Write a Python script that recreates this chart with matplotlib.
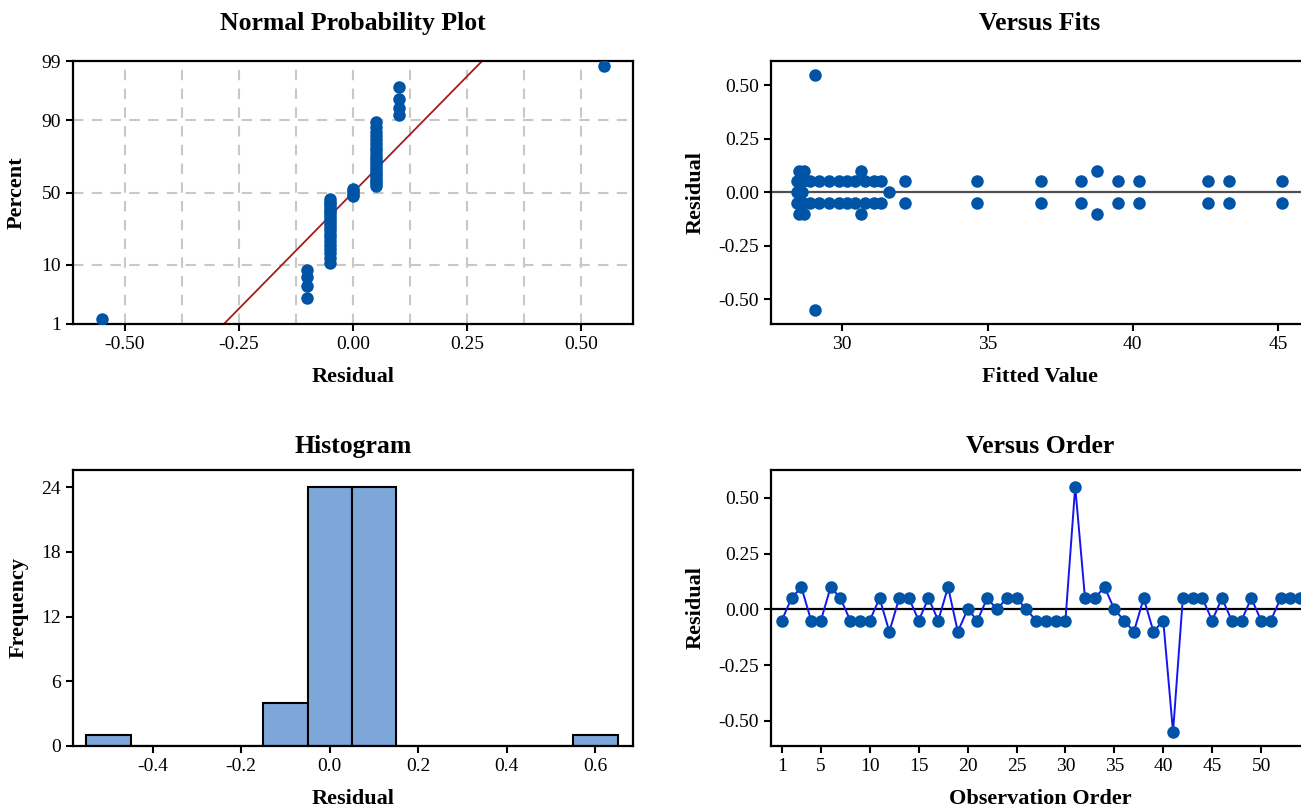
import numpy as np
import matplotlib
matplotlib.use("Agg")
import matplotlib.pyplot as plt
from statistics import NormalDist

# ---------------- data ----------------
residuals = [-0.05, 0.05, 0.10, -0.05, -0.05, 0.10, 0.05, -0.05, -0.05, -0.05,
             0.05, -0.10, 0.05, 0.05, -0.05, 0.05, -0.05, 0.10, -0.10, 0.0,
             -0.05, 0.05, 0.0, 0.05, 0.05, 0.0, -0.05, -0.05, -0.05, -0.05,
             0.55, 0.05, 0.05, 0.10, 0.0, -0.05, -0.10, 0.05, -0.10, -0.05,
             -0.55, 0.05, 0.05, 0.05, -0.05, 0.05, -0.05, -0.05, 0.05, -0.05,
             -0.05, 0.05, 0.05, 0.05]
fitted = [28.45, 28.45, 28.50, 28.65, 28.90, 28.68, 28.65, 29.20, 29.55, 29.90,
          28.90, 28.50, 29.20, 29.55, 30.15, 29.90, 30.45, 30.65, 28.68, 28.45,
          30.80, 30.15, 28.55, 30.45, 30.80, 28.62, 31.10, 31.35, 32.17, 34.63,
          29.06, 31.10, 31.35, 38.78, 31.61, 36.85, 30.65, 32.17, 38.78, 38.20,
          29.06, 34.63, 36.85, 38.20, 39.48, 39.48, 40.20, 42.60, 40.20, 43.31,
          45.12, 42.60, 43.31, 45.12]
observation = list(range(1, len(residuals) + 1))

prob_ticks = [1, 10, 50, 90, 99]
npp_xticks = [-0.50, -0.25, 0.00, 0.25, 0.50]
hist_bin_centers = [-0.5, -0.4, -0.3, -0.2, -0.1, 0.0, 0.1, 0.2, 0.3, 0.4, 0.5, 0.6]
hist_xticks = [-0.4, -0.2, 0.0, 0.2, 0.4, 0.6]
hist_yticks = [0, 6, 12, 18, 24]
fits_xticks = [30, 35, 40, 45]
resid_ticks = [-0.50, -0.25, 0.00, 0.25, 0.50]
order_ticks = [1, 5, 10, 15, 20, 25, 30, 35, 40, 45, 50]

# ---------------- style ----------------
plt.rcParams['font.family'] = ['Liberation Serif', 'DejaVu Serif']
plt.rcParams['axes.unicode_minus'] = False
BLUE = '#0054A6'
W, H = 1301, 808
fig = plt.figure(figsize=(W / 100, H / 100), dpi=100)

def box(l, t, r, b):
    return [l / W, 1 - b / H, (r - l) / W, (b - t) / H]

ax_npp = fig.add_axes(box(73, 61, 633, 324))
ax_fit = fig.add_axes(box(771, 61, 1309, 324))
ax_hist = fig.add_axes(box(73, 470, 633, 746))
ax_ord = fig.add_axes(box(771, 470, 1309, 746))

TS, LS, KS = 18.5, 16, 14

def style(ax):
    for s in ax.spines.values():
        s.set_linewidth(1.6)
        s.set_color('black')
    ax.tick_params(direction='out', length=5, width=1.5, labelsize=KS, colors='black')

# ---------------- Normal probability plot ----------------
nd = NormalDist()
r = np.array(residuals)
rs = np.sort(r)
n = len(rs)
pct = (np.arange(1, n + 1) - 0.3) / (n + 0.4)
z = np.array([nd.inv_cdf(p) for p in pct])
mu, sd = r.mean(), r.std(ddof=1)
zlo, zhi = nd.inv_cdf(0.01), nd.inv_cdf(0.99)

for gx in np.arange(-0.5, 0.51, 0.125):
    ax_npp.axvline(gx, color='#C8C8C8', lw=1.5, ls=(0, (5, 4)), zorder=0)
for p in [10, 50, 90]:
    ax_npp.axhline(nd.inv_cdf(p / 100), color='#C8C8C8', lw=1.5, ls=(0, (5, 4)), zorder=0)
zl = np.linspace(zlo, zhi, 50)
ax_npp.plot(mu + sd * zl, zl, color='#A51C1C', lw=1.3, zorder=2)
ax_npp.plot(rs, z, 'o', color=BLUE, ms=9, mec='none', zorder=3)
ax_npp.set_xlim(-0.614, 0.614)
ax_npp.set_ylim(zlo, zhi)
ax_npp.set_yticks([nd.inv_cdf(p / 100) for p in prob_ticks])
ax_npp.set_yticklabels([str(p) for p in prob_ticks])
ax_npp.set_xticks(npp_xticks)
ax_npp.set_xticklabels([f"{v:.2f}" for v in npp_xticks])
ax_npp.set_title("Normal Probability Plot", fontsize=TS, fontweight='bold', pad=22)
ax_npp.set_xlabel("Residual", fontsize=LS, fontweight='bold')
ax_npp.set_ylabel("Percent", fontsize=LS, fontweight='bold')
style(ax_npp)

# ---------------- Versus Fits ----------------
ax_fit.axhline(0, color='#505050', lw=1.6, zorder=1)
ax_fit.plot(fitted, residuals, 'o', color=BLUE, ms=9, mec='none', zorder=3)
ax_fit.set_xlim(27.55, 46.06)
ax_fit.set_ylim(-0.617, 0.614)
ax_fit.set_xticks(fits_xticks)
ax_fit.set_yticks(resid_ticks)
ax_fit.set_yticklabels([f"{v:.2f}" for v in resid_ticks])
ax_fit.set_title("Versus Fits", fontsize=TS, fontweight='bold', pad=22)
ax_fit.set_xlabel("Fitted Value", fontsize=LS, fontweight='bold')
ax_fit.set_ylabel("Residual", fontsize=LS, fontweight='bold')
style(ax_fit)

# ---------------- Histogram ----------------
edges = [round(c - 0.05, 2) for c in hist_bin_centers] + [round(hist_bin_centers[-1] + 0.05, 2)]
ax_hist.hist(residuals, bins=edges, color='#7DA7D9', edgecolor='black', linewidth=1.5, zorder=2)
ax_hist.set_xlim(-0.58, 0.685)
ax_hist.set_ylim(0, 25.6)
ax_hist.set_xticks(hist_xticks)
ax_hist.set_xticklabels([f"{v:.1f}" for v in hist_xticks])
ax_hist.set_yticks(hist_yticks)
ax_hist.set_title("Histogram", fontsize=TS, fontweight='bold', pad=12)
ax_hist.set_xlabel("Residual", fontsize=LS, fontweight='bold')
ax_hist.set_ylabel("Frequency", fontsize=LS, fontweight='bold')
style(ax_hist)

# ---------------- Versus Order ----------------
ax_ord.axhline(0, color='black', lw=1.6, zorder=1)
ax_ord.plot(observation, residuals, '-', color='#1515F0', lw=1.4, zorder=2)
ax_ord.plot(observation, residuals, 'o', color=BLUE, ms=9, mec='none', zorder=3)
ax_ord.set_xlim(-0.1, 54.9)
ax_ord.set_ylim(-0.612, 0.624)
ax_ord.set_xticks(order_ticks)
ax_ord.set_yticks(resid_ticks)
ax_ord.set_yticklabels([f"{v:.2f}" for v in resid_ticks])
ax_ord.set_title("Versus Order", fontsize=TS, fontweight='bold', pad=12)
ax_ord.set_xlabel("Observation Order", fontsize=LS, fontweight='bold')
ax_ord.set_ylabel("Residual", fontsize=LS, fontweight='bold')
style(ax_ord)

# label placement
ax_npp.xaxis.set_label_coords(0.5, -0.163)
ax_fit.xaxis.set_label_coords(0.5, -0.163)
ax_hist.xaxis.set_label_coords(0.5, -0.155)
ax_ord.xaxis.set_label_coords(0.5, -0.155)
ax_npp.yaxis.set_label_coords(-0.082, 0.5)
ax_hist.yaxis.set_label_coords(-0.079, 0.5)
ax_fit.yaxis.set_label_coords(-0.121, 0.5)
ax_ord.yaxis.set_label_coords(-0.121, 0.5)

fig.savefig("out.png", dpi=100)
